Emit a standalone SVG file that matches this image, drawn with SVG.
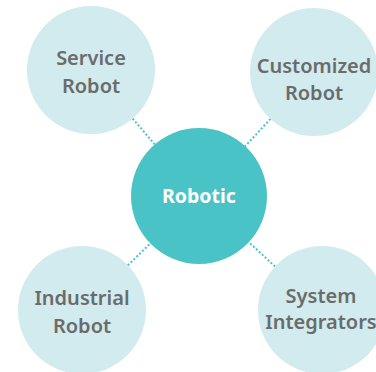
<svg xmlns="http://www.w3.org/2000/svg" width="376" height="372" viewBox="0 0 376 372">
<style>
.sat{fill:#d1ebee}
.hub{fill:#49c3c6}
.lbl{font-family:"Noto Sans","Liberation Sans",sans-serif;font-weight:600;font-size:20px;fill:#6b6b6b;text-anchor:middle}
.hubl{font-family:"Noto Sans","Liberation Sans",sans-serif;font-weight:700;font-size:19.5px;fill:#ffffff;text-anchor:middle}
.con{stroke:#49c3c6;stroke-width:2;stroke-dasharray:2 2;fill:none}
</style>
<rect width="376" height="372" fill="#ffffff"/>
<g id="connectors">
<line class="con" x1="91" y1="70" x2="199" y2="196"/>
<line class="con" x1="314" y1="72" x2="199" y2="196"/>
<line class="con" x1="82" y1="310" x2="199" y2="196"/>
<line class="con" x1="322" y1="310" x2="199" y2="196"/>
</g>
<g id="service">
<circle class="sat" cx="91" cy="70" r="64"/>
<text class="lbl" x="91" y="65">Service</text>
<text class="lbl" x="91" y="93">Robot</text>
</g>
<g id="customized">
<circle class="sat" cx="314" cy="72" r="64"/>
<text class="lbl" x="314" y="73">Customized</text>
<text class="lbl" x="314" y="100">Robot</text>
</g>
<g id="industrial">
<circle class="sat" cx="82" cy="310" r="64"/>
<text class="lbl" x="82" y="305">Industrial</text>
<text class="lbl" x="82" y="333">Robot</text>
</g>
<g id="system">
<circle class="sat" cx="322" cy="310" r="64"/>
<text class="lbl" x="321" y="303">System</text>
<text class="lbl" x="321" y="329">Integrators</text>
</g>
<g id="robotic">
<circle class="hub" cx="199" cy="196" r="68"/>
<text class="hubl" x="199" y="203">Robotic</text>
</g>
</svg>
